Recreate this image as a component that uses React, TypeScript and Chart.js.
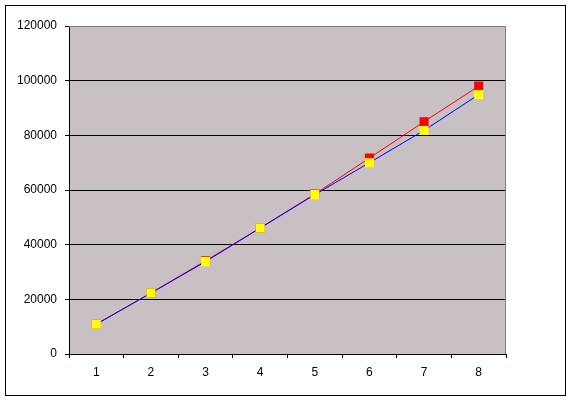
import React, { useEffect, useRef } from "react";
import { Chart, registerables } from "chart.js";

Chart.register(...registerables);

const categories = ["1", "2", "3", "4", "5", "6", "7", "8"];
const redSeries = [10900, 22300, 34100, 46100, 58500, 71700, 85000, 98000];
const yellowSeries = [10900, 22300, 33800, 46100, 58300, 70000, 81800, 94900];
const yTicks = [0, 20000, 40000, 60000, 80000, 100000, 120000];

const FONT = { family: "'Liberation Sans', Arial, sans-serif", size: 12 };

const framePlugin = {
  id: "frame",
  beforeDraw(chart: any) {
    const { ctx, chartArea } = chart;
    ctx.save();
    ctx.fillStyle = "#ffffff";
    ctx.fillRect(0, 0, chart.width, chart.height);
    ctx.strokeStyle = "#000000";
    ctx.lineWidth = 1;
    ctx.strokeRect(5.5, 5.5, 560, 390);
    ctx.fillStyle = "rgb(200,192,194)";
    ctx.fillRect(chartArea.left, chartArea.top, chartArea.right - chartArea.left, chartArea.bottom - chartArea.top);
    ctx.restore();
  },
  beforeDatasetsDraw(chart: any) {
    const { ctx, chartArea } = chart;
    ctx.save();
    ctx.strokeStyle = "#808080";
    ctx.lineWidth = 1;
    ctx.beginPath();
    ctx.moveTo(chartArea.left, chartArea.top + 0.5);
    ctx.lineTo(chartArea.right - 0.5, chartArea.top + 0.5);
    ctx.lineTo(chartArea.right - 0.5, chartArea.bottom);
    ctx.stroke();
    ctx.restore();
  },
};

export default function App() {
  const ref = useRef<HTMLCanvasElement>(null);
  useEffect(() => {
    const chart = new Chart(ref.current as HTMLCanvasElement, {
      type: "line",
      data: {
        labels: categories,
        datasets: [
          {
            label: "Series 2",
            data: yellowSeries,
            borderColor: "#0000ff",
            borderWidth: 1,
            backgroundColor: "#ffff00",
            pointStyle: "rect",
            pointRadius: 6.4,
            pointHoverRadius: 6.4,
            pointBorderWidth: 0,
            pointBackgroundColor: "#ffff00",
            tension: 0,
            order: 0,
          },
          {
            label: "Series 1",
            data: redSeries,
            borderColor: "#ff0000",
            borderWidth: 1,
            backgroundColor: "#ff0000",
            pointStyle: "rect",
            pointRadius: 6.4,
            pointHoverRadius: 6.4,
            pointBorderWidth: 0,
            pointBackgroundColor: "#ff0000",
            tension: 0,
            order: 1,
          },
        ],
      },
      options: {
        animation: false,
        responsive: false,
        events: [],
        layout: { padding: { left: 0, top: 26, right: 65, bottom: 0 } },
        plugins: { legend: { display: false }, tooltip: { enabled: false } },
        scales: {
          x: {
            type: "category",
            offset: true,
            grid: {
              offset: true,
              drawOnChartArea: false,
              tickLength: 4,
              tickColor: "#000000",
            },
            border: { color: "#000000", width: 1 },
            ticks: { color: "#000000", font: FONT, padding: 7, maxRotation: 0 },
            afterFit: (s: any) => {
              s.height = 46;
            },
          },
          y: {
            min: 0,
            max: 120000,
            afterBuildTicks: (s: any) => {
              s.ticks = yTicks.map((v) => ({ value: v }));
            },
            grid: {
              color: (c: any) => (c.tick && c.tick.value === 120000 ? "#808080" : "#000000"),
              tickColor: "#000000",
              tickLength: 4,
              lineWidth: 1,
            },
            border: { color: "#000000", width: 1 },
            ticks: { color: "#000000", font: FONT, padding: 8, callback: (v: any) => String(v) },
            afterFit: (s: any) => {
              s.width = 69;
            },
          },
        },
      },
      plugins: [framePlugin],
    });
    return () => chart.destroy();
  }, []);
  return (
    <div style={{ position: "fixed", left: 0, top: 0, width: 571, height: 400 }}>
      <canvas ref={ref} width={571} height={400} style={{ display: "block" }} />
    </div>
  );
}
